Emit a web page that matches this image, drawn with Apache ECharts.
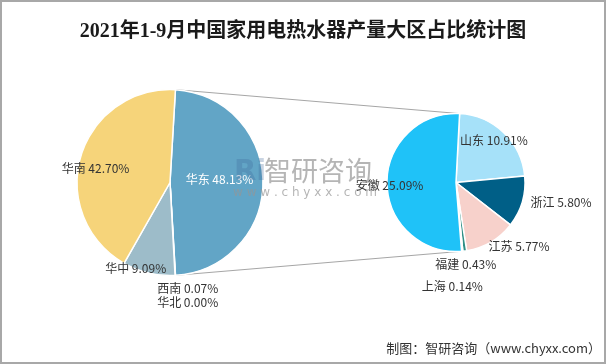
<!DOCTYPE html>
<html><head><meta charset="utf-8">
<script src="https://cdn.jsdelivr.net/npm/echarts@6/dist/echarts.min.js"></script>
<style>html,body{margin:0;padding:0;background:#fff}#c{width:606px;height:364px}</style>
</head><body><div id="c"></div>
<script>
// ---- data ----
const chartTitle = '2021年1-9月中国家用电热水器产量大区占比统计图';
const regionNames = ['华东', '西南', '华北', '华中', '华南'];
const regionValues = [48.13, 0.07, 0.00, 9.09, 42.70];
const eastNames = ['山东', '浙江', '江苏', '福建', '上海', '安徽'];
const eastValues = [10.91, 5.80, 5.77, 0.43, 0.14, 25.09];
const sourceText = '制图：智研咨询（www.chyxx.com）';

// ---- styles ----
const regionColors = ['#62A5C6', '#4E7FA8', '#7FA7B8', '#9DBCC9', '#F6D47A'];
const eastColors = ['#A6E1F9', '#005F87', '#F7D1CB', '#2F8F86', '#7FCFB0', '#1FC2F8'];
const regionLabelOffsets = [[0, -3], [15, 57], [15, 71], [-23, 38], [-27, 0]];
const eastLabelOffsets = [[12, -15], [69, 9], [44, 32], [5, 45], [-7, 67], [-29, 2]];
const labelFont = "'Noto Sans CJK SC', 'Microsoft YaHei', sans-serif";

const chart = echarts.init(document.getElementById('c'), null, {renderer: 'canvas'});

function fmt(p) { return p.name + ' ' + Number(p.value).toFixed(2) + '%'; }

const leftData = regionNames.map((n, i) => ({
  name: n, value: regionValues[i],
  itemStyle: {color: regionColors[i]},
  label: {offset: regionLabelOffsets[i], color: i === 0 ? '#ffffff' : '#333333'}
}));
const rightData = eastNames.map((n, i) => ({
  name: n, value: eastValues[i],
  itemStyle: {color: eastColors[i]},
  label: {offset: eastLabelOffsets[i]}
}));

const baseGraphics = [
  {id: 'border', type: 'rect', z: 0, silent: true,
   shape: {x: 1, y: 1, width: 604, height: 362},
   style: {fill: 'none', stroke: '#a8a8a8', lineWidth: 2}},
  {id: 'wmLogo', type: 'text', z: 100, silent: true, left: 234, top: 158,
   style: {text: 'Ri', fill: 'rgba(60,100,150,0.28)', font: "bold 29px 'DejaVu Sans', sans-serif"}},
  {id: 'wmText', type: 'text', z: 100, silent: true, left: 264, top: 157,
   style: {text: '智研咨询', fill: 'rgba(150,150,150,0.7)', font: "27px 'Noto Sans CJK SC', sans-serif"}},
  {id: 'wmUrl', type: 'text', z: 100, silent: true, left: 233, top: 187,
   style: {text: 'w w w . c h y x x . c o m', fill: 'rgba(150,150,150,0.7)', font: "12px 'DejaVu Sans', sans-serif"}},
  {id: 'source', type: 'text', z: 100, silent: true, right: 5, top: 342,
   style: {text: sourceText, fill: '#333333', font: "13px 'Noto Sans CJK SC', sans-serif"}}
];

const pieCommon = {
  type: 'pie', clockwise: true, avoidLabelOverlap: false, animation: false,
  silent: true, minShowLabelAngle: 0, emphasis: {disabled: true},
  labelLine: {show: false},
  itemStyle: {borderColor: '#ffffff', borderWidth: 1.5},
  label: {show: true, position: 'inside', formatter: fmt, fontSize: 12,
          fontFamily: labelFont, color: '#333333'}
};

chart.setOption({
  backgroundColor: '#ffffff',
  animation: false,
  title: {text: chartTitle, left: 'center', top: 17,
          textStyle: {fontSize: 20, fontWeight: 'bold', color: '#1a1a1a',
                      fontFamily: "'Liberation Serif', 'Noto Sans CJK SC', serif"}},
  graphic: baseGraphics,
  series: [
    Object.assign({}, pieCommon, {name: 'regions', center: [170, 182.5], radius: 93,
      startAngle: 86.65, data: leftData}),
    Object.assign({}, pieCommon, {name: 'east', center: [456, 182.5], radius: 69,
      startAngle: 87, data: rightData})
  ]
});

// connector lines derived from the library's own pie layouts
try {
  const model = chart.getModel();
  const L = model.getSeriesByIndex(0).getData().getItemLayout(0);
  const RD = model.getSeriesByIndex(1).getData();
  const rTop = RD.getItemLayout(0);
  const rBot = RD.getItemLayout(eastNames.length - 1);
  const pt = (l, a) => [l.cx + l.r * Math.cos(a), l.cy + l.r * Math.sin(a)];
  const a1 = pt(L, L.startAngle), a2 = pt(L, L.endAngle);
  const b1 = pt(rTop, rTop.startAngle), b2 = pt(rBot, rBot.startAngle);
  chart.setOption({graphic: [
    {id: 'lnTop', type: 'line', z: 1, silent: true,
     shape: {x1: a1[0], y1: a1[1], x2: b1[0], y2: b1[1]},
     style: {stroke: '#a6a6a6', lineWidth: 1}},
    {id: 'lnBot', type: 'line', z: 1, silent: true,
     shape: {x1: a2[0], y1: a2[1], x2: b2[0], y2: b2[1]},
     style: {stroke: '#a6a6a6', lineWidth: 1}}
  ]});
} catch (e) { console.error(e); }
</script></body></html>
